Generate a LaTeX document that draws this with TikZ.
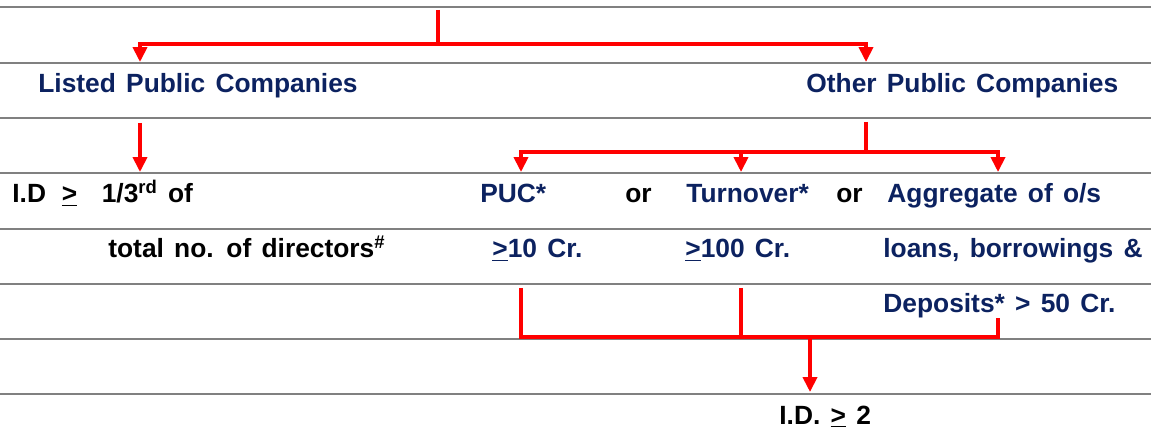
\documentclass[tikz,border=0pt]{standalone}
\usepackage{fontspec}
\setmainfont{Liberation Sans}[WordSpace=1.4]
\usepackage{xcolor}
\definecolor{navy}{HTML}{0C2260}
\usetikzlibrary{arrows.meta,positioning,calc}

\begin{document}
\begin{tikzpicture}[x=0.02cm, y=-0.02cm,
  rule/.style={draw=black!50, line width=1.3pt},
  link/.style={draw=red, line width=2pt},
  arr/.style={link, -{Triangle[width=8pt,length=8.5pt]}},
  lbl/.style={font=\fontsize{15}{17}\selectfont\bfseries, inner sep=0pt,
              anchor=base west, text=navy},
  blk/.style={lbl, text=black},
]
\useasboundingbox (0,0) rectangle (1151,431);

% Ruled lines
\foreach \y in {7,63,118,173,229,284,339,394}
  \draw[rule] (0,\y) -- (1151,\y);

% Headings
\node[lbl] (lpc) at (38,93) {Listed Public Companies};
\node[lbl] (opc) at (806,93) {Other Public Companies};

% Listed side
\node[blk] (idthird) at (12,203) {I.D\hspace{9pt}\underline{>}\hspace{14pt}1/3\textsuperscript{rd} of};
\node[blk] (totdir) at (108,258) {total no. of directors\textsuperscript{\#}};

% Other side
\node[lbl] (puc) at (480,203) {PUC*};
\node[blk] (or1) at (625,203) {or};
\node[lbl] (turn) at (686,203) {Turnover*};
\node[blk] (or2) at (836,203) {or};
\node[lbl] (agg) at (887,203) {Aggregate of o/s};
\node[lbl] (pucval) at (492,258) {\underline{>}10 Cr.};
\node[lbl] (turnval) at (685,258) {\underline{>}100 Cr.};
\node[lbl] (loans) at (883,258) {loans, borrowings \&};
\node[lbl] (depo) at (883,313) {Deposits* > 50 Cr.};
\node[blk] (idtwo) at (779,424) {I.D. \underline{>} 2};

% Connector points
\coordinate (root) at (438,10);
\coordinate (rootj) at (438,44);
\coordinate (lpcin) at (140,62);
\coordinate (opcin) at (866,62);
\coordinate (lpcout) at (140,123);
\coordinate (idin) at (140,172);
\coordinate (opcout) at (866,122);
\coordinate (opcj) at (866,152);
\coordinate (pucin) at (521,172);
\coordinate (turnin) at (741,172);
\coordinate (aggin) at (998,172);
\coordinate (pucout) at (521,288);
\coordinate (turnout) at (741,288);
\coordinate (aggout) at (998,318);
\coordinate (mergej) at (810,337);
\coordinate (idtwoin) at (810,392);

% Top split
\draw[link] (root) -- (rootj);
\draw[arr] (rootj) -| (lpcin);
\draw[arr] (rootj) -| (opcin);

% Listed branch
\draw[arr] (lpcout) -- (idin);

% Other branch
\draw[link] (opcout) -- (opcj);
\draw[arr] (opcj) -| (pucin);
\draw[arr] (opcj) -| (turnin);
\draw[arr] (opcj) -| (aggin);

% Merge
\draw[link] (pucout) |- (mergej) -| (aggout);
\draw[link] (turnout) -- (turnout |- mergej);
\draw[arr] (mergej) -- (idtwoin);

\end{tikzpicture}
\end{document}
